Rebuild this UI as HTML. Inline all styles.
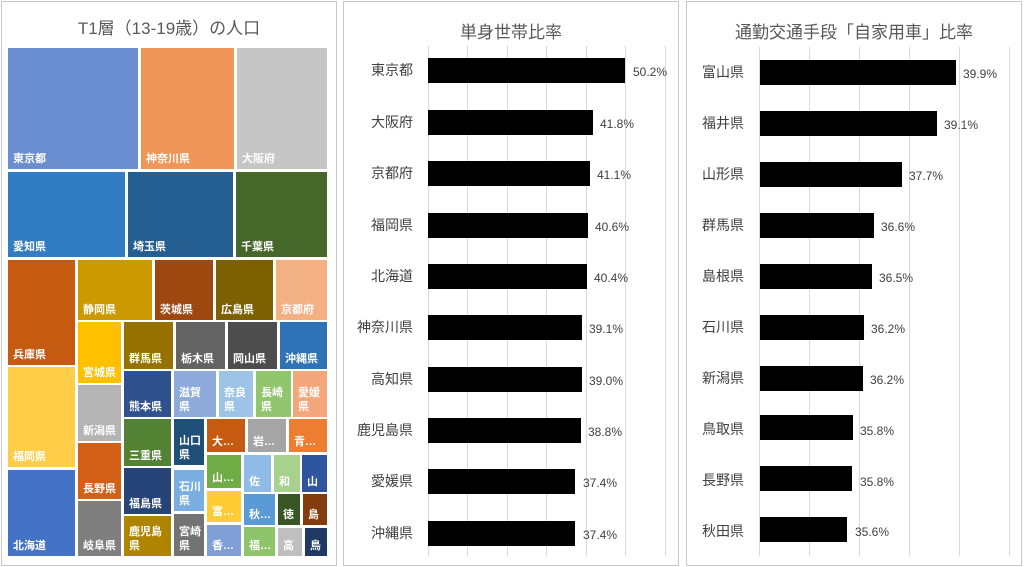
<!DOCTYPE html>
<html><head><meta charset="utf-8"><style>
body{margin:0;width:1024px;height:567px;background:#fff;position:relative;overflow:hidden;font-family:"Liberation Sans","Noto Sans CJK JP",sans-serif}
.p{position:absolute;border:1px solid #c8c8c8;background:#fff;box-sizing:border-box}
.t{position:absolute;text-align:center;font-size:17px;color:#595959;white-space:nowrap}
.r{position:absolute;box-sizing:border-box}
.r span{position:absolute;left:5px;bottom:3px;color:#fff;font-weight:bold;font-size:11px;line-height:14px;white-space:nowrap}
.g{position:absolute;width:1px;background:#d9d9d9}
.b{position:absolute;background:#000;height:25px}
.c{position:absolute;font-size:14px;color:#404040;text-align:right;width:70px;line-height:20px}
.v{position:absolute;font-size:12px;color:#404040;line-height:16px}
</style></head><body>
<div class="p" style="left:1px;top:1px;width:336px;height:565px"></div>
<div class="t" style="left:1px;top:14px;width:336px">T1層（13-19歳）の人口</div>
<div class="r" style="left:8px;top:48px;width:130px;height:121px;background:#6a8ecf"><span>東京都</span></div>
<div class="r" style="left:141px;top:48px;width:93px;height:121px;background:#f0965a"><span>神奈川県</span></div>
<div class="r" style="left:237px;top:48px;width:90px;height:121px;background:#c6c6c6"><span>大阪府</span></div>
<div class="r" style="left:8px;top:172px;width:117px;height:85px;background:#327cc1"><span>愛知県</span></div>
<div class="r" style="left:128px;top:172px;width:105px;height:85px;background:#255e91"><span>埼玉県</span></div>
<div class="r" style="left:236px;top:172px;width:91px;height:85px;background:#46672a"><span>千葉県</span></div>
<div class="r" style="left:8px;top:260px;width:67px;height:105px;background:#c55a11"><span>兵庫県</span></div>
<div class="r" style="left:78px;top:260px;width:74px;height:60px;background:#cc9a00"><span>静岡県</span></div>
<div class="r" style="left:155px;top:260px;width:58px;height:60px;background:#9e4810"><span>茨城県</span></div>
<div class="r" style="left:216px;top:260px;width:57px;height:60px;background:#7d6000"><span>広島県</span></div>
<div class="r" style="left:276px;top:260px;width:51px;height:60px;background:#f3b083"><span>京都府</span></div>
<div class="r" style="left:78px;top:322px;width:43px;height:61px;background:#ffc000"><span>宮城県</span></div>
<div class="r" style="left:124px;top:322px;width:49px;height:47px;background:#987200"><span>群馬県</span></div>
<div class="r" style="left:176px;top:322px;width:49px;height:47px;background:#636363"><span>栃木県</span></div>
<div class="r" style="left:228px;top:322px;width:49px;height:47px;background:#4d4d4d"><span>岡山県</span></div>
<div class="r" style="left:280px;top:322px;width:47px;height:47px;background:#2e73b5"><span>沖縄県</span></div>
<div class="r" style="left:8px;top:367px;width:67px;height:100px;background:#ffcd48"><span>福岡県</span></div>
<div class="r" style="left:78px;top:385px;width:43px;height:56px;background:#b4b4b4"><span>新潟県</span></div>
<div class="r" style="left:78px;top:443px;width:43px;height:56px;background:#d26017"><span>長野県</span></div>
<div class="r" style="left:78px;top:501px;width:43px;height:55px;background:#7f7f7f"><span>岐阜県</span></div>
<div class="r" style="left:8px;top:470px;width:67px;height:86px;background:#4472c4"><span>北海道</span></div>
<div class="r" style="left:124px;top:371px;width:47px;height:46px;background:#2f528f"><span>熊本県</span></div>
<div class="r" style="left:174px;top:371px;width:42px;height:46px;background:#8eaadb"><span>滋賀<br>県</span></div>
<div class="r" style="left:219px;top:371px;width:34px;height:46px;background:#9dc3e6"><span>奈良<br>県</span></div>
<div class="r" style="left:256px;top:371px;width:35px;height:46px;background:#92c66e"><span>長崎<br>県</span></div>
<div class="r" style="left:293px;top:371px;width:34px;height:46px;background:#f4a77a"><span>愛媛<br>県</span></div>
<div class="r" style="left:124px;top:419px;width:47px;height:47px;background:#548235"><span>三重県</span></div>
<div class="r" style="left:174px;top:419px;width:30px;height:46px;background:#1f4e79"><span>山口<br>県</span></div>
<div class="r" style="left:207px;top:419px;width:38px;height:33px;background:#c55a11"><span>大…</span></div>
<div class="r" style="left:248px;top:419px;width:38px;height:33px;background:#a5a5a5"><span>岩…</span></div>
<div class="r" style="left:289px;top:419px;width:38px;height:33px;background:#ed7d31"><span>青…</span></div>
<div class="r" style="left:124px;top:468px;width:47px;height:46px;background:#264478"><span>福島県</span></div>
<div class="r" style="left:174px;top:470px;width:30px;height:41px;background:#7aaee0"><span>石川<br>県</span></div>
<div class="r" style="left:207px;top:455px;width:34px;height:33px;background:#70ad47"><span>山…</span></div>
<div class="r" style="left:244px;top:455px;width:27px;height:37px;background:#8fbbe6"><span>佐</span></div>
<div class="r" style="left:274px;top:455px;width:26px;height:37px;background:#a9d18e"><span>和</span></div>
<div class="r" style="left:302px;top:455px;width:25px;height:37px;background:#2f559f"><span>山</span></div>
<div class="r" style="left:207px;top:491px;width:34px;height:31px;background:#ffcc33"><span>富…</span></div>
<div class="r" style="left:244px;top:494px;width:31px;height:31px;background:#5b9bd5"><span>秋…</span></div>
<div class="r" style="left:278px;top:494px;width:22px;height:31px;background:#375623"><span>徳</span></div>
<div class="r" style="left:303px;top:494px;width:24px;height:31px;background:#843c0c"><span>島</span></div>
<div class="r" style="left:124px;top:516px;width:47px;height:40px;background:#ae8400"><span>鹿児島<br>県</span></div>
<div class="r" style="left:174px;top:514px;width:30px;height:42px;background:#737373"><span>宮崎<br>県</span></div>
<div class="r" style="left:207px;top:525px;width:34px;height:31px;background:#7f9fd6"><span>香…</span></div>
<div class="r" style="left:244px;top:527px;width:31px;height:29px;background:#8ec46a"><span>福…</span></div>
<div class="r" style="left:278px;top:528px;width:24px;height:28px;background:#bfbfbf"><span>高</span></div>
<div class="r" style="left:305px;top:528px;width:22px;height:28px;background:#203864"><span>鳥</span></div>

<div class="p" style="left:343px;top:1px;width:336px;height:565px"></div>
<div class="t" style="left:343px;top:18px;width:336px">単身世帯比率</div>
<div class="g" style="left:428px;top:46px;height:510px"></div>
<div class="g" style="left:467px;top:46px;height:510px"></div>
<div class="g" style="left:507px;top:46px;height:510px"></div>
<div class="g" style="left:546px;top:46px;height:510px"></div>
<div class="g" style="left:586px;top:46px;height:510px"></div>
<div class="g" style="left:625px;top:46px;height:510px"></div>
<div class="g" style="left:665px;top:46px;height:510px"></div>

<div class="c" style="left:343px;top:60px">東京都</div><div class="b" style="left:428px;top:58px;width:197px"></div><div class="v" style="left:633px;top:64px">50.2%</div>
<div class="c" style="left:343px;top:112px">大阪府</div><div class="b" style="left:428px;top:110px;width:165px"></div><div class="v" style="left:600px;top:116px">41.8%</div>
<div class="c" style="left:343px;top:163px">京都府</div><div class="b" style="left:428px;top:161px;width:162px"></div><div class="v" style="left:597px;top:167px">41.1%</div>
<div class="c" style="left:343px;top:215px">福岡県</div><div class="b" style="left:428px;top:213px;width:160px"></div><div class="v" style="left:595px;top:219px">40.6%</div>
<div class="c" style="left:343px;top:266px">北海道</div><div class="b" style="left:428px;top:264px;width:159px"></div><div class="v" style="left:594px;top:270px">40.4%</div>
<div class="c" style="left:343px;top:317px">神奈川県</div><div class="b" style="left:428px;top:315px;width:154px"></div><div class="v" style="left:589px;top:321px">39.1%</div>
<div class="c" style="left:343px;top:369px">高知県</div><div class="b" style="left:428px;top:367px;width:154px"></div><div class="v" style="left:589px;top:373px">39.0%</div>
<div class="c" style="left:343px;top:420px">鹿児島県</div><div class="b" style="left:428px;top:418px;width:153px"></div><div class="v" style="left:588px;top:424px">38.8%</div>
<div class="c" style="left:343px;top:471px">愛媛県</div><div class="b" style="left:428px;top:469px;width:147px"></div><div class="v" style="left:583px;top:475px">37.4%</div>
<div class="c" style="left:343px;top:523px">沖縄県</div><div class="b" style="left:428px;top:521px;width:147px"></div><div class="v" style="left:583px;top:527px">37.4%</div>

<div class="p" style="left:686px;top:1px;width:336px;height:565px"></div>
<div class="t" style="left:686px;top:18px;width:336px">通勤交通手段「自家用車」比率</div>
<div class="g" style="left:759px;top:47px;height:509px"></div>
<div class="g" style="left:809px;top:47px;height:509px"></div>
<div class="g" style="left:859px;top:47px;height:509px"></div>
<div class="g" style="left:909px;top:47px;height:509px"></div>
<div class="g" style="left:959px;top:47px;height:509px"></div>
<div class="g" style="left:1009px;top:47px;height:509px"></div>

<div class="c" style="left:674px;top:62px">富山県</div><div class="b" style="left:760px;top:60px;width:196px"></div><div class="v" style="left:963px;top:66px">39.9%</div>
<div class="c" style="left:674px;top:113px">福井県</div><div class="b" style="left:760px;top:111px;width:177px"></div><div class="v" style="left:944px;top:117px">39.1%</div>
<div class="c" style="left:674px;top:164px">山形県</div><div class="b" style="left:760px;top:162px;width:142px"></div><div class="v" style="left:909px;top:168px">37.7%</div>
<div class="c" style="left:674px;top:215px">群馬県</div><div class="b" style="left:760px;top:213px;width:114px"></div><div class="v" style="left:881px;top:219px">36.6%</div>
<div class="c" style="left:674px;top:266px">島根県</div><div class="b" style="left:760px;top:264px;width:112px"></div><div class="v" style="left:879px;top:270px">36.5%</div>
<div class="c" style="left:674px;top:317px">石川県</div><div class="b" style="left:760px;top:315px;width:104px"></div><div class="v" style="left:871px;top:321px">36.2%</div>
<div class="c" style="left:674px;top:368px">新潟県</div><div class="b" style="left:760px;top:366px;width:103px"></div><div class="v" style="left:870px;top:372px">36.2%</div>
<div class="c" style="left:674px;top:419px">鳥取県</div><div class="b" style="left:760px;top:415px;width:93px"></div><div class="v" style="left:860px;top:423px">35.8%</div>
<div class="c" style="left:674px;top:470px">長野県</div><div class="b" style="left:760px;top:466px;width:92px"></div><div class="v" style="left:860px;top:474px">35.8%</div>
<div class="c" style="left:674px;top:521px">秋田県</div><div class="b" style="left:760px;top:517px;width:87px"></div><div class="v" style="left:855px;top:524px">35.6%</div>
</body></html>
